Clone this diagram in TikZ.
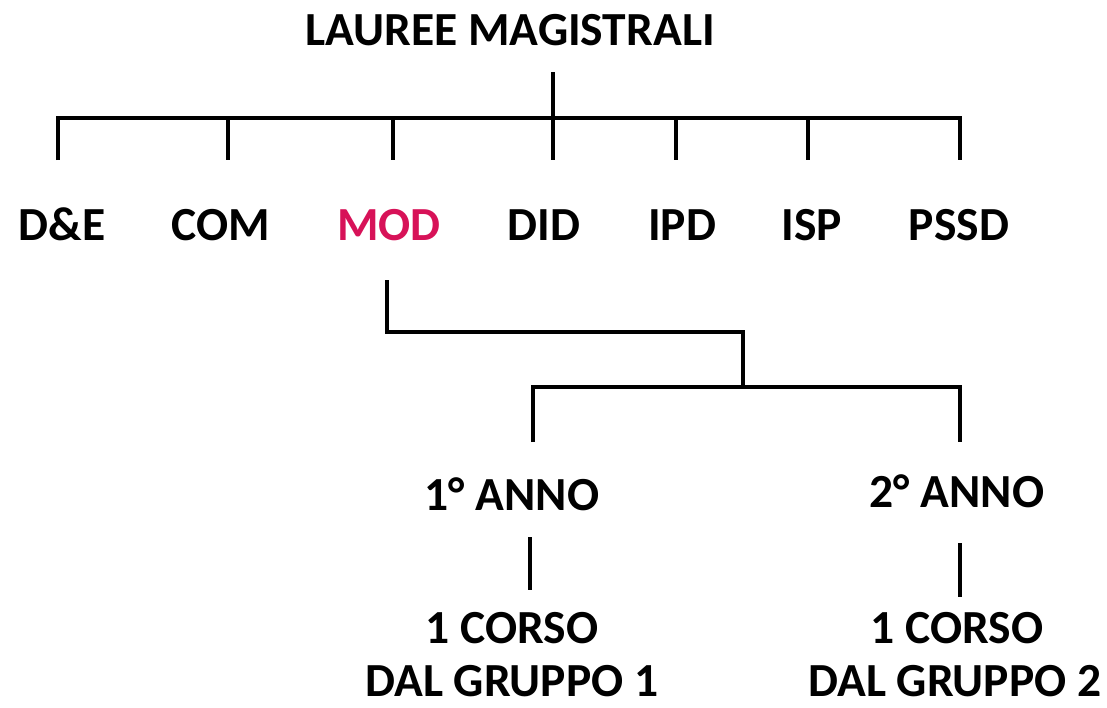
\documentclass[tikz,border=0pt]{standalone}
\usepackage{fontspec}
\setmainfont{Carlito}
\definecolor{modred}{RGB}{215,18,88}
\begin{document}
\begin{tikzpicture}[x=1pt,y=-1pt,
  lbl/.style={inner sep=0pt,anchor=base,font=\fontsize{47.5}{55}\selectfont\bfseries},
  conn/.style={line width=3.6pt,line cap=butt,line join=miter}]
\useasboundingbox (0,0) rectangle (1107,707);
% nodes
\node[lbl] (title) at (510,45) {LAUREE MAGISTRALI};
\node[lbl] (de)   at (62,240)  {D\&E};
\node[lbl] (com)  at (221,240) {COM};
\node[lbl,text=modred] (mod) at (389,240) {MOD};
\node[lbl] (did)  at (544,240) {DID};
\node[lbl] (ipd)  at (682,240) {IPD};
\node[lbl] (isp)  at (812,240) {ISP};
\node[lbl] (pssd) at (959,240) {PSSD};
\node[lbl] (a1) at (512,510) {1° ANNO};
\node[lbl] (a2) at (957,507) {2° ANNO};
\node[lbl] (c1) at (512,643) {1 CORSO};
\node[lbl] (c2) at (957,643) {1 CORSO};
\node[lbl] (g1) at (512,696) {DAL GRUPPO 1};
\node[lbl] (g2) at (955,696) {DAL GRUPPO 2};
% junction coordinates
\coordinate (ttop) at (553,72);
\coordinate (bl) at (58,118);
\coordinate (br) at (960,118);
\coordinate (tde) at (58,160);
\coordinate (tcom) at (228,160);
\coordinate (tmod) at (393,160);
\coordinate (tdid) at (553,160);
\coordinate (tipd) at (676,160);
\coordinate (tisp) at (808,160);
\coordinate (tpssd) at (960,160);
\coordinate (mtop) at (387,280);
\coordinate (melb) at (387,332);
\coordinate (mr) at (743,332);
\coordinate (mj) at (743,387);
\coordinate (yl) at (533,387);
\coordinate (yr) at (960,387);
\coordinate (ya1) at (533,442);
\coordinate (ya2) at (960,442);
\coordinate (v1t) at (530,537);
\coordinate (v1b) at (530,590);
\coordinate (v2t) at (960,543);
\coordinate (v2b) at (960,597);
% connectors
\draw[conn] (ttop) -- (tdid);
\draw[conn] (tde) -- (bl) -- (br) -- (tpssd);
\draw[conn] (tcom |- bl) -- (tcom);
\draw[conn] (tmod |- bl) -- (tmod);
\draw[conn] (tipd |- bl) -- (tipd);
\draw[conn] (tisp |- bl) -- (tisp);
\draw[conn] (mtop) -- (melb) -- (mr) -- (mj);
\draw[conn] (ya1) -- (yl) -- (yr) -- (ya2);
\draw[conn] (v1t) -- (v1b);
\draw[conn] (v2t) -- (v2b);
\end{tikzpicture}
\end{document}
